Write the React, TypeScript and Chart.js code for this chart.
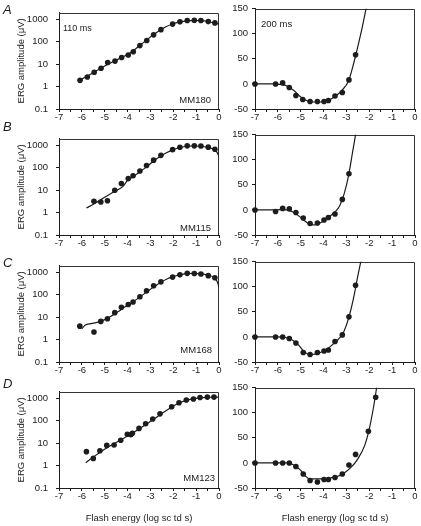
import React, { useEffect, useRef } from "react";
import { Chart, registerables } from "chart.js";

Chart.register(...registerables);

// ---------------- data ----------------
const xTickLabels = ["-7", "-6", "-5", "-4", "-3", "-2", "-1", "0"];
const ampTicks = [0.1, 1, 10, 100, 1000];
const ampTickLabels = ["0.1", "1", "10", "100", "1000"];
const negTicks = [-50, 0, 50, 100, 150];

const panelLetters = ["A", "B", "C", "D"];
const subjectIds = ["MM180", "MM115", "MM168", "MM123"];
const timeLabelLeft = "110 ms";
const timeLabelRight = "200 ms";

// Row A (MM180) — 110 ms, log amplitude
const leftA_x = [-6.08, -5.76, -5.46, -5.16, -4.87, -4.55, -4.26, -3.97, -3.75, -3.46, -3.16, -2.86, -2.54, -2.03, -1.71, -1.39, -1.08, -0.79, -0.47, -0.18];
const leftA_y = [1.9, 2.7, 4.4, 6.6, 12, 13.8, 20, 26, 36, 68, 115, 205, 350, 620, 780, 900, 920, 900, 800, 700];
const leftA_fitX = [-6.1, -5.8, -5.5, -5.2, -4.9, -4.6, -4.3, -4.0, -3.8, -3.5, -3.2, -2.9, -2.6, -2.3, -2.0, -1.7, -1.4, -1.1, -0.8, -0.5, -0.2, 0];
const leftA_fitY = [1.9, 2.8, 4.2, 6.3, 9.5, 13.5, 19, 27, 37, 65, 112, 195, 320, 480, 640, 780, 870, 900, 880, 810, 690, 620];
// Row A — 200 ms, linear amplitude
const rightA_x = [-7, -6.1, -5.79, -5.5, -5.21, -4.91, -4.59, -4.27, -3.98, -3.79, -3.5, -3.18, -2.89, -2.6];
const rightA_y = [0, 0, 2, -7, -23, -31, -35, -35, -35, -33, -24, -17, 8, 58];
const rightA_fitX = [-7, -6.2, -5.9, -5.6, -5.3, -5.0, -4.7, -4.4, -4.1, -3.8, -3.5, -3.2, -2.9, -2.7, -2.5, -2.3, -2.1, -2.0];
const rightA_fitY = [0, 0, -1, -4, -13, -26, -34, -36, -36, -33, -25, -13, 7, 38, 75, 115, 160, 185];

// Row B (MM115)
const leftB_x = [-5.47, -5.17, -4.88, -4.56, -4.27, -3.97, -3.76, -3.46, -3.17, -2.86, -2.54, -2.03, -1.71, -1.39, -1.08, -0.79, -0.47, -0.18];
const leftB_y = [3.2, 3.0, 3.4, 10, 20, 33, 44, 72, 128, 220, 360, 650, 830, 960, 960, 950, 840, 680];
const leftB_fitX = [-5.8, -5.4, -5.0, -4.6, -4.2, -4.1, -4.0, -3.8, -3.5, -3.2, -2.9, -2.6, -2.3, -2.0, -1.7, -1.4, -1.1, -0.8, -0.5, -0.3, -0.1, 0];
const leftB_fitY = [1.6, 2.7, 4.8, 8.5, 14.8, 20, 28, 38, 62, 105, 185, 310, 470, 650, 810, 920, 950, 920, 830, 720, 520, 330];
const rightB_x = [-7, -6.1, -5.79, -5.5, -5.21, -4.89, -4.59, -4.27, -3.98, -3.79, -3.5, -3.18, -2.89];
const rightB_y = [0, -3, 3, 2, -5, -16, -27, -26, -20, -15, -8, 21, 72];
const rightB_fitX = [-7, -6.2, -5.9, -5.6, -5.3, -5.0, -4.7, -4.5, -4.3, -4.0, -3.7, -3.5, -3.3, -3.1, -2.9, -2.75, -2.6, -2.5];
const rightB_fitY = [0, 0, 0.5, 0, -5, -15, -26, -30, -29, -22, -12, -4, 8, 32, 70, 110, 150, 180];

// Row C (MM168)
const leftC_x = [-6.09, -5.47, -5.17, -4.88, -4.56, -4.27, -3.97, -3.76, -3.46, -3.17, -2.86, -2.54, -2.03, -1.71, -1.39, -1.08, -0.79, -0.47, -0.18];
const leftC_y = [4, 2.2, 6.5, 8.5, 16, 28, 37, 48, 82, 150, 255, 380, 620, 780, 910, 900, 850, 720, 580];
const leftC_fitX = [-6.0, -5.85, -5.6, -5.3, -5.0, -4.7, -4.4, -4.1, -3.8, -3.5, -3.2, -2.9, -2.6, -2.3, -2.0, -1.7, -1.4, -1.1, -0.8, -0.5, -0.2, -0.05, 0];
const leftC_fitY = [3.0, 4.5, 5.2, 6.0, 7.8, 11.5, 18, 29, 46, 75, 125, 210, 340, 500, 650, 790, 880, 910, 870, 760, 580, 330, 210];
const rightC_x = [-7, -6.1, -5.79, -5.5, -5.21, -4.89, -4.59, -4.27, -3.98, -3.79, -3.5, -3.18, -2.89, -2.6];
const rightC_y = [0, 0, 0, -3, -12, -31, -35, -31, -28, -26, -9, 4, 40, 103];
const rightC_fitX = [-7, -6.0, -5.7, -5.4, -5.1, -4.9, -4.7, -4.5, -4.2, -3.9, -3.6, -3.3, -3.1, -2.9, -2.7, -2.5, -2.35, -2.25];
const rightC_fitY = [0, 0, -1, -5, -16, -27, -34, -35, -32, -26, -15, -2, 12, 38, 75, 122, 155, 180];

// Row D (MM123)
const leftD_x = [-5.8, -5.5, -5.21, -4.91, -4.59, -4.3, -4.01, -3.86, -3.79, -3.5, -3.21, -2.9, -2.58, -2.07, -1.75, -1.43, -1.12, -0.83, -0.51, -0.22];
const leftD_y = [4.2, 2.1, 4.6, 8, 8.3, 13.5, 25, 24, 28, 46, 74, 120, 205, 425, 640, 850, 940, 1100, 1150, 1150];
const leftD_fitX = [-5.83, -5.5, -5.2, -4.9, -4.6, -4.3, -4.0, -3.7, -3.4, -3.1, -2.8, -2.5, -2.2, -1.9, -1.6, -1.3, -1.0, -0.7, -0.4, 0];
const leftD_fitY = [1.35, 2.4, 4.0, 6.3, 9.5, 14, 21, 32, 50, 80, 130, 215, 340, 520, 720, 880, 1000, 1080, 1130, 1150];
const rightD_x = [-7, -6.1, -5.79, -5.5, -5.21, -4.89, -4.59, -4.27, -3.98, -3.79, -3.5, -3.18, -2.89, -2.6, -2.04, -1.72];
const rightD_y = [0, 0, 0, 0, -7, -22, -35, -38, -33, -33, -29, -22, -4, 17, 63, 131];
const rightD_fitX = [-7, -5.6, -5.3, -5.0, -4.8, -4.6, -4.3, -4.0, -3.7, -3.4, -3.1, -2.8, -2.5, -2.2, -2.0, -1.8, -1.68, -1.6];
const rightD_fitY = [0, 0, -4, -15, -26, -32, -32, -32, -30, -27, -20, -9, 8, 35, 68, 115, 150, 175];

// ---------------- layout / style ----------------
const FONT = "'Liberation Sans', Arial, Helvetica, sans-serif";
const INK = "#1c1c1c";
const PAGE_W = 421;
const PAGE_H = 526;
const ROW_TOP = [5, 131, 258, 384];
const ROW_BOTTOM = [109, 235, 362, 488];
const PAD_TOP = 6;
const LETTER_CY = [9.5, 126, 262, 383];
const ID_CY = [100, 228, 350, 478];
const ID_RIGHT = [211, 211, 212, 215];
const TICK_SIZE = 9.5;

type Series = { x: number[]; y: number[]; fx: number[]; fy: number[] };

const leftSeries: Series[] = [
  { x: leftA_x, y: leftA_y, fx: leftA_fitX, fy: leftA_fitY },
  { x: leftB_x, y: leftB_y, fx: leftB_fitX, fy: leftB_fitY },
  { x: leftC_x, y: leftC_y, fx: leftC_fitX, fy: leftC_fitY },
  { x: leftD_x, y: leftD_y, fx: leftD_fitX, fy: leftD_fitY },
];
const rightSeries: Series[] = [
  { x: rightA_x, y: rightA_y, fx: rightA_fitX, fy: rightA_fitY },
  { x: rightB_x, y: rightB_y, fx: rightB_fitX, fy: rightB_fitY },
  { x: rightC_x, y: rightC_y, fx: rightC_fitX, fy: rightC_fitY },
  { x: rightD_x, y: rightD_y, fx: rightD_fitX, fy: rightD_fitY },
];

const framePlugin = {
  id: "frame",
  beforeDatasetsDraw(chart: any) {
    const { ctx, chartArea } = chart;
    const t = Math.round(chartArea.top) + 0.5;
    const r = Math.round(chartArea.right) - 0.5;
    ctx.save();
    ctx.strokeStyle = "#333333";
    ctx.lineWidth = 1;
    ctx.beginPath();
    ctx.moveTo(chartArea.left, t);
    ctx.lineTo(r, t);
    ctx.lineTo(r, chartArea.bottom);
    ctx.stroke();
    ctx.restore();
  },
};

type PanelProps = {
  side: "left" | "right";
  row: number;
  series: Series;
};

function Panel({ side, row, series }: PanelProps) {
  const ref = useRef<HTMLCanvasElement | null>(null);
  const isLeft = side === "left";
  const isLast = row === 3;
  const canvasLeft = isLeft ? 0 : 222;
  const canvasW = isLeft ? 226 : 199;
  const axisW = isLeft ? 59 : 33;
  const padRight = isLeft ? 7 : 6;
  const xAxisH = isLast ? 38 : 20;
  const plotH = ROW_BOTTOM[row] - ROW_TOP[row];
  const canvasTop = ROW_TOP[row] - PAD_TOP;
  const canvasH = PAD_TOP + plotH + xAxisH;

  useEffect(() => {
    if (!ref.current) return;
    const pts = series.x.map((v, i) => ({ x: v, y: series.y[i] }));
    const fit = series.fx.map((v, i) => ({ x: v, y: series.fy[i] }));

    const yScale: any = isLeft
      ? {
          type: "logarithmic",
          min: 0.1,
          max: 2000,
          afterBuildTicks: (s: any) => {
            s.ticks = ampTicks.map((v) => ({ value: v }));
          },
          ticks: {
            autoSkip: false,
            padding: 8,
            color: INK,
            font: { family: FONT, size: TICK_SIZE },
            callback: (v: number) => {
              const i = ampTicks.findIndex((t) => Math.abs(t - v) < 1e-9);
              return i >= 0 ? ampTickLabels[i] : "";
            },
          },
          title: {
            display: true,
            text: "ERG amplitude (\u03BCV)",
            color: INK,
            font: { family: FONT, size: 9.5 },
            padding: { top: 16, bottom: 0 },
          },
        }
      : {
          type: "linear",
          min: -50,
          max: 150,
          afterBuildTicks: (s: any) => {
            s.ticks = negTicks.map((v) => ({ value: v }));
          },
          ticks: {
            autoSkip: false,
            padding: 4,
            color: INK,
            font: { family: FONT, size: TICK_SIZE },
            callback: (v: number) => String(v),
          },
          title: { display: false },
        };
    yScale.position = "left";
    yScale.grid = { drawOnChartArea: false, drawTicks: true, tickLength: 3, tickColor: INK, tickWidth: 1 };
    yScale.border = { display: true, color: INK, width: 1 };
    yScale.afterFit = (s: any) => {
      s.width = axisW;
    };

    const chart = new Chart(ref.current, {
      type: "scatter",
      data: {
        datasets: [
          {
            data: fit,
            showLine: true,
            pointRadius: 0,
            borderColor: INK,
            borderWidth: 1.2,
            cubicInterpolationMode: "monotone",
            fill: false,
            order: 2,
          } as any,
          {
            data: pts,
            showLine: false,
            pointRadius: 2.8,
            pointBackgroundColor: INK,
            pointBorderColor: INK,
            pointBorderWidth: 0,
            clip: false,
            order: 1,
          } as any,
        ],
      },
      options: {
        animation: false,
        responsive: false,
        maintainAspectRatio: false,
        events: [],
        layout: { padding: { top: PAD_TOP, right: padRight, left: 0, bottom: 0 } },
        plugins: { legend: { display: false }, tooltip: { enabled: false } },
        scales: {
          x: {
            type: "linear",
            position: "bottom",
            min: -7,
            max: 0,
            ticks: {
              stepSize: 0.5,
              autoSkip: false,
              maxRotation: 0,
              padding: 0,
              color: INK,
              font: { family: FONT, size: TICK_SIZE },
              callback: (v: number) => {
                const k = Math.round(v);
                if (Math.abs(v - k) > 1e-6) return "";
                return xTickLabels[k + 7] ?? "";
              },
            },
            grid: { drawOnChartArea: false, drawTicks: true, tickLength: 3, tickColor: INK, tickWidth: 1 },
            border: { display: true, color: INK, width: 1 },
            title: {
              display: isLast,
              text: "Flash energy (log sc td s)",
              color: INK,
              font: { family: FONT, size: 9.5 },
              padding: { top: 0, bottom: 2 },
            },
            afterFit: (s: any) => {
              s.height = xAxisH;
            },
          } as any,
          y: yScale,
        },
      },
      plugins: [framePlugin],
    });
    return () => chart.destroy();
  }, []);

  return (
    <canvas
      ref={ref}
      width={canvasW}
      height={canvasH}
      style={{ position: "absolute", left: canvasLeft, top: canvasTop, width: canvasW, height: canvasH }}
    />
  );
}

function Label({ text, left, right, cy, size, italic }: { text: string; left?: number; right?: number; cy: number; size: number; italic?: boolean }) {
  const style: React.CSSProperties = {
    position: "absolute",
    top: cy - size * 0.49,
    fontFamily: FONT,
    fontSize: size,
    lineHeight: `${size}px`,
    fontStyle: italic ? "italic" : "normal",
    color: INK,
    whiteSpace: "nowrap",
  };
  if (left !== undefined) style.left = left;
  if (right !== undefined) style.right = PAGE_W - right;
  return <div style={style}>{text}</div>;
}

export default function App() {
  return (
    <div
      style={{
        position: "absolute",
        left: 0,
        top: 0,
        width: PAGE_W,
        height: PAGE_H,
        background: "#ffffff",
        overflow: "hidden",
      }}
    >
      {[0, 1, 2, 3].map((r) => (
        <React.Fragment key={r}>
          <Panel side="left" row={r} series={leftSeries[r]} />
          <Panel side="right" row={r} series={rightSeries[r]} />
          <Label text={panelLetters[r]} left={3} cy={LETTER_CY[r]} size={13} italic />
          <Label text={subjectIds[r]} right={ID_RIGHT[r]} cy={ID_CY[r]} size={9.5} />
        </React.Fragment>
      ))}
      <Label text={timeLabelLeft} left={63} cy={28} size={9} />
      <Label text={timeLabelRight} left={261} cy={24} size={9.5} />
    </div>
  );
}
